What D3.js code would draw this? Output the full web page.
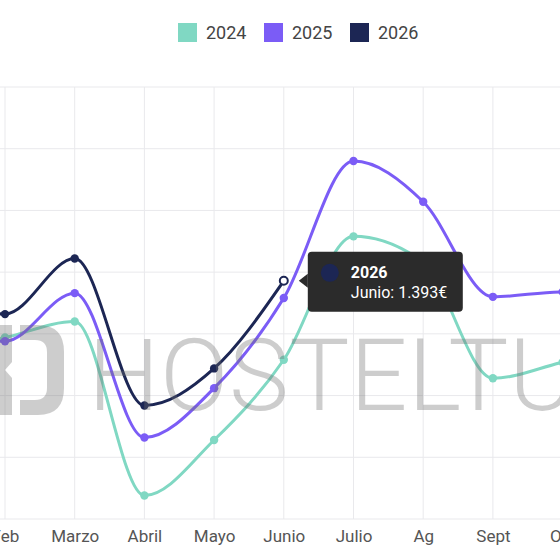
<!DOCTYPE html>
<html><head><meta charset="utf-8">
<script src="https://cdn.jsdelivr.net/npm/d3@7"></script>
<style>
body{margin:0;background:#fff}
svg{display:block;font-family:Roboto,"Noto Sans",sans-serif}
</style>
</head><body>
<svg id="chart" width="560" height="560"></svg>
<script>
// ---- data ----
const months = ["Enero","Feb","Marzo","Abril","Mayo","Junio","Julio","Ag","Sept","Oct","Nov","Dic"];
const years = ["2024","2025","2026"];
const v2024 = [1335,1347,1360,1219,1264,1329,1429,1408,1314,1327,1340,1330];
const v2025 = [1349,1344,1383,1266,1306,1379,1490,1457,1380,1384,1375,1365];
const v2026 = [1390,1366,1411,1292,1322,1393];
const colors = ["#80d8c3","#7b5cf6","#1c2654"];
const yTicks = [1200,1250,1300,1350,1400,1450,1500,1550];
const hoverYear = "2026", hoverMonth = "Junio";
const watermark = "HOSTELTUR";

const series = years.map((y,i)=>({year:y,color:colors[i],values:[v2024,v2025,v2026][i]}));

const svg = d3.select("#chart");
const W = 560, H = 560;
const step = 69.7;
const x = d3.scalePoint().domain(months).range([5-step, 5+10*step]);
const y = d3.scaleLinear().domain([1200,1550]).range([519,87]);

// grid
const grid = svg.append("g");
grid.selectAll("line.h").data(yTicks).join("line")
  .attr("x1",0).attr("x2",W).attr("y1",d=>y(d)).attr("y2",d=>y(d))
  .attr("stroke","#e9e9ec").attr("stroke-width",1);
grid.selectAll("line.v").data(months).join("line")
  .attr("x1",d=>x(d)).attr("x2",d=>x(d)).attr("y1",y(1550)).attr("y2",y(1200))
  .attr("stroke","#e9e9ec").attr("stroke-width",1);

// x axis labels
const xAxis = d3.axisBottom(x).tickSize(0).tickPadding(0);
const gx = svg.append("g").attr("transform",`translate(0,${y(1200)})`).call(xAxis);
gx.select(".domain").remove();
gx.selectAll("text").attr("font-size",17).attr("fill","#555").attr("dy",null).attr("y",23)
  .attr("font-family","Roboto, sans-serif");

// lines
const line = d3.line().x((d,i)=>x(months[i])).y(d=>y(d)).curve(d3.curveMonotoneX);
const gl = svg.append("g");
series.forEach(s=>{
  gl.append("path").datum(s.values).attr("d",line)
    .attr("fill","none").attr("stroke",s.color).attr("stroke-width",3)
    .attr("stroke-linecap","round");
  gl.selectAll(null).data(s.values).join("circle")
    .attr("cx",(d,i)=>x(months[i])).attr("cy",d=>y(d))
    .attr("r",(d,i)=> (s.year===hoverYear && months[i]===hoverMonth)?4:4.2)
    .attr("fill",(d,i)=> (s.year===hoverYear && months[i]===hoverMonth)?"#fff":s.color)
    .attr("stroke",s.color)
    .attr("stroke-width",(d,i)=> (s.year===hoverYear && months[i]===hoverMonth)?2:0);
});

// watermark
const wm = svg.append("g").attr("opacity",0.34);
wm.append("text").attr("x",88).attr("y",410).text(watermark)
  .attr("font-size",101).attr("font-weight",300).attr("fill","#6f6f6f")
  .attr("font-family","Roboto, sans-serif").attr("letter-spacing",0.5);
wm.append("path")
  .attr("d","M20,325 L38,325 Q64,325 64,352 L64,388 Q64,415 38,415 L20,415 L20,400 L35,400 Q47,400 47,388 L47,352 Q47,340 35,340 L20,340 Z")
  .attr("fill","#6f6f6f");
wm.append("path")
  .attr("d","M-10,325 L12,325 L12,362 L5,370 L12,378 L12,415 L-10,415 Z")
  .attr("fill","#6f6f6f");

// legend
const lg = svg.append("g");
const lx = [178,264,350];
series.forEach((s,i)=>{
  lg.append("rect").attr("x",lx[i]).attr("y",23).attr("width",19).attr("height",19).attr("fill",s.color);
  lg.append("text").attr("x",lx[i]+28).attr("y",38.5).text(s.year)
    .attr("font-size",18).attr("fill","#444");
});

// tooltip
const loc = d3.formatLocale({decimal:",",thousands:".",grouping:[3],currency:["","€"]});
const fmt = loc.format("$,.0f");
const hs = series.find(s=>s.year===hoverYear);
const hi = months.indexOf(hoverMonth);
const px = x(hoverMonth), py = y(hs.values[hi]);
const tt = svg.append("g").attr("transform",`translate(${px+24},${py})`);
tt.append("path").attr("d","M-9,0 L0,-7 L0,7 Z").attr("fill","#2b2b2b");
tt.append("rect").attr("x",0).attr("y",-29).attr("width",155).attr("height",60).attr("rx",4).attr("fill","#2b2b2b");
tt.append("circle").attr("cx",22).attr("cy",-8).attr("r",9).attr("fill",hs.color);
tt.append("text").attr("x",43).attr("y",-2.5).text(hoverYear).attr("font-size",16).attr("font-weight",700).attr("fill","#fff");
tt.append("text").attr("x",43).attr("y",17).text(`${hoverMonth}: ${fmt(hs.values[hi])}`).attr("font-size",16).attr("fill","#fff");
</script>
</body></html>
